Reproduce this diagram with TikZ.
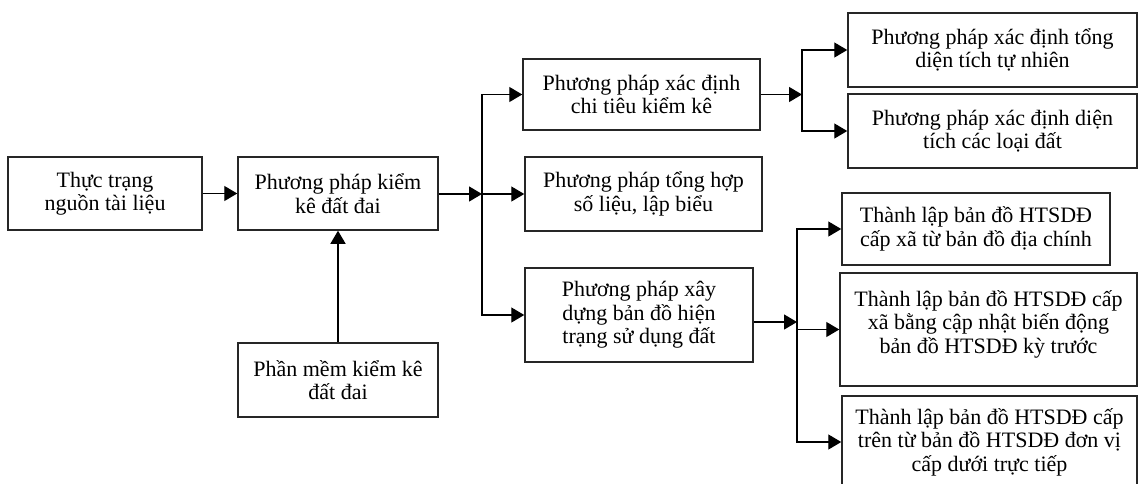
\documentclass[tikz,border=0pt]{standalone}
\usepackage{fontspec}
\setmainfont{Liberation Serif}
\usetikzlibrary{arrows.meta}
\begin{document}
\begin{tikzpicture}[x=1pt,y=-1pt,
  box/.style={draw=black!85,line width=1.5pt,rectangle,align=center,inner sep=0pt,
    font=\fontsize{22}{23.5}\selectfont},
  arr/.style={line width=1.4pt,-{Triangle[length=13pt,width=15pt]}}]
\useasboundingbox (0,0) rectangle (1138,483);
\clip (0,0) rectangle (1138,483);
\fill[white] (0,0) rectangle (1138,483);

% first column
\node[box,minimum width=194pt,minimum height=73pt] (A) at (105,193.5) {Thực trạng\\nguồn tài liệu};
\node[box,minimum width=200pt,minimum height=73pt] (B) at (338,193.5) {Phương pháp kiểm\\kê đất đai};
\node[box,minimum width=200pt,minimum height=74pt] (K) at (338,380) {Phần mềm kiểm kê\\đất đai};

% methods
\node[box,minimum width=237pt,minimum height=71pt] (C) at (641.5,94.5) {Phương pháp xác định\\chi tiêu kiểm kê};
\node[box,minimum width=237pt,minimum height=74pt] (D) at (643.5,194) {Phương pháp tổng hợp\\số liệu, lập biểu};
\node[box,minimum width=228pt,minimum height=94pt] (E) at (639,315) {Phương pháp xây\\dựng bản đồ hiện\\trạng sử dụng đất};

% area methods
\node[box,minimum width=289pt,minimum height=74pt] (F) at (992.5,50) {Phương pháp xác định tổng\\diện tích tự nhiên};
\node[box,minimum width=289pt,minimum height=74pt] (G) at (992.5,131) {Phương pháp xác định diện\\tích các loại đất};

% map methods
\node[box,minimum width=268pt,minimum height=72pt] (H) at (976,229) {Thành lập bản đồ HTSDĐ\\cấp xã từ bản đồ địa chính};
\node[box,minimum width=297pt,minimum height=113pt] (I) at (988.5,329.5) {Thành lập bản đồ HTSDĐ cấp\\xã bằng cập nhật biến động\\bản đồ HTSDĐ kỳ trước\rule[-15pt]{0pt}{0pt}};
\node[box,minimum width=295pt,minimum height=92pt] (J) at (989.5,442) {Thành lập bản đồ HTSDĐ cấp\\trên từ bản đồ HTSDĐ đơn vị\\cấp dưới trực tiếp};

% junctions
\coordinate (j1) at (482,194);
\coordinate (j2) at (802,94.5);
\coordinate (j3) at (797,322);

% connectors
\draw[arr] (A) -- (B);
\draw[arr] (K) -- (B);
\draw[arr] (B.east |- j1) -- (j1);
\draw[arr] (j1) -- (D.west |- j1);
\draw[arr] (j1) |- (C.west);
\draw[arr] (j1) |- (E.west);
\draw[arr] (C.east) -- (j2);
\draw[arr] (j2) |- (F.west);
\draw[arr] (j2) |- (G.west);
\draw[arr] (E.east |- j3) -- (j3);
\draw[arr] (j3) |- (H.west);
\draw[arr] (j3) |- (I.west);
\draw[arr] (j3) |- (J.west);
\end{tikzpicture}
\end{document}
